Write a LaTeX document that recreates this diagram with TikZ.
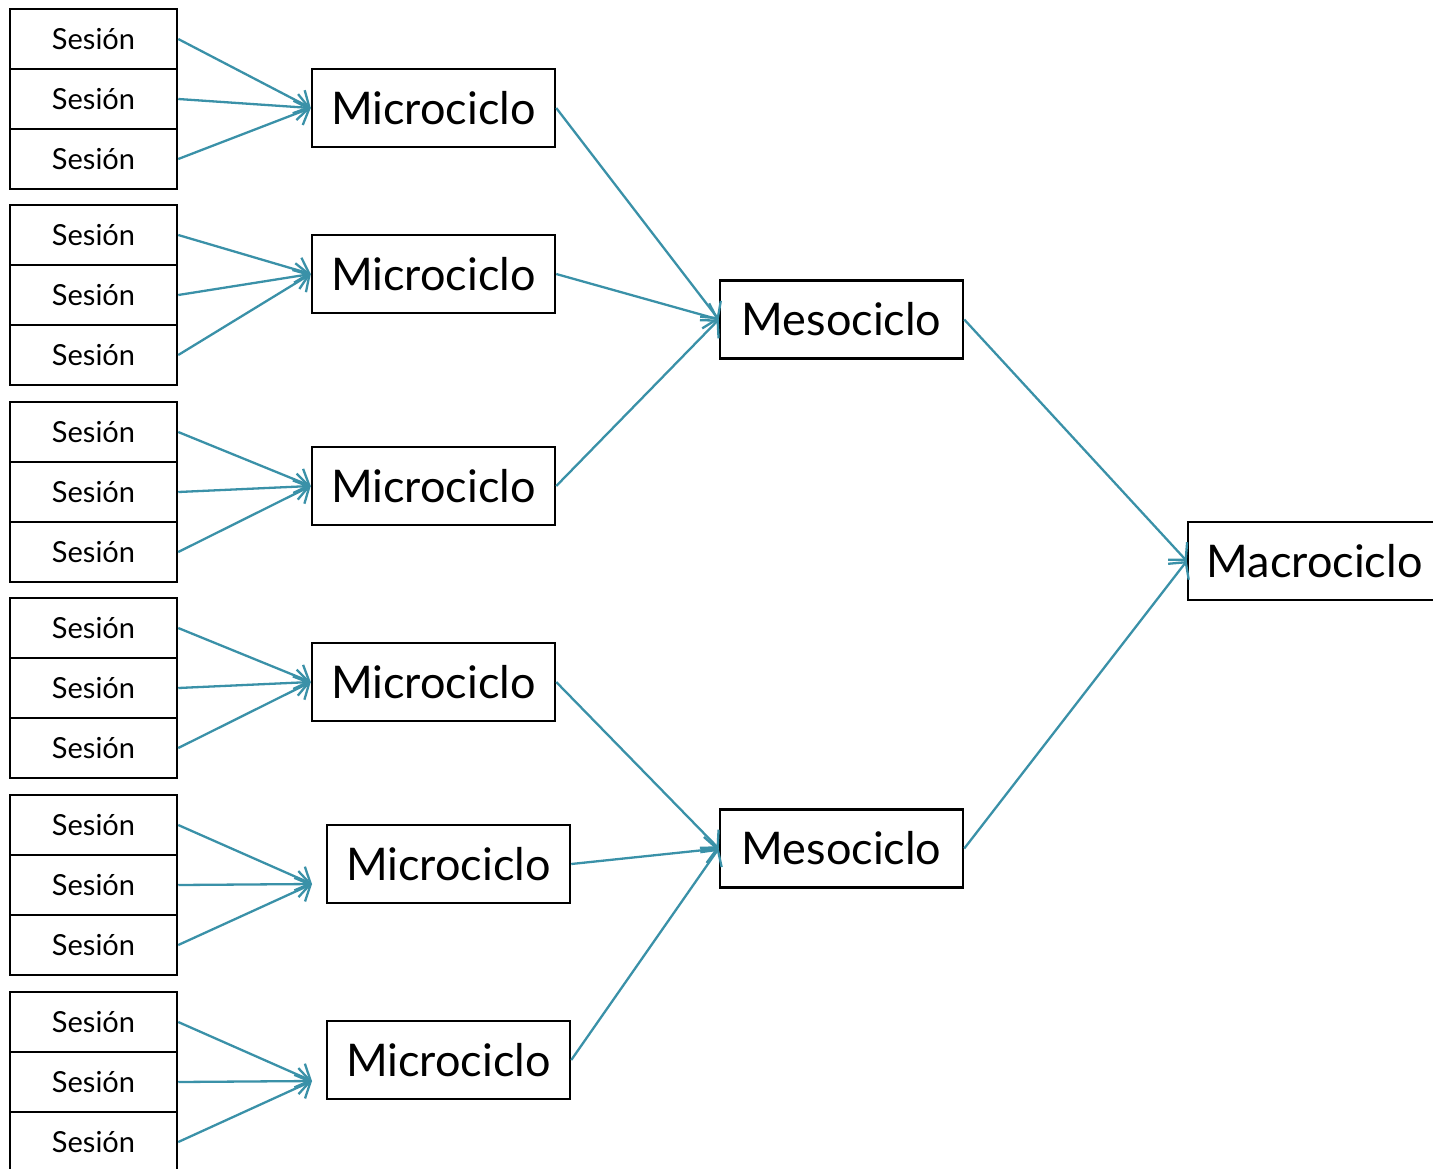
\documentclass[tikz,border=0pt]{standalone}
\usepackage{fontspec}
\setmainfont{Lato}
\usetikzlibrary{arrows.meta,calc}
\definecolor{teal1}{RGB}{58,145,168}
\begin{document}
\begin{tikzpicture}[x=1pt,y=-1pt,
  sbox/.style={draw=black,line width=2.5pt,minimum width=167pt,minimum height=60pt,inner sep=0pt,font=\fontsize{29}{34}\selectfont},
  bigbox/.style={draw=black,line width=2.5pt,minimum width=243pt,minimum height=78pt,inner sep=0pt,font=\fontsize{45}{52}\selectfont},
  conn/.style={draw=teal1,line width=2.3pt,-{Straight Barb[length=12pt,width=26pt,line width=2.3pt]}}]
\useasboundingbox (0,0) rectangle (1433,1168);
% session boxes
\foreach \g/\y in {1/9,2/205,3/402,4/598,5/795,6/992}{
  \node[sbox] (s\g a) at (93.5,\y+30) {Sesión};
  \node[sbox] (s\g b) at (93.5,\y+90) {Sesión};
  \node[sbox] (s\g c) at (93.5,\y+150) {Sesión};
}
% microciclos
\node[bigbox] (m1) at (433.5,108) {Microciclo};
\node[bigbox] (m2) at (433.5,274) {Microciclo};
\node[bigbox] (m3) at (433.5,486) {Microciclo};
\node[bigbox] (m4) at (433.5,682) {Microciclo};
\node[bigbox] (m5) at (448.5,864) {Microciclo};
\node[bigbox] (m6) at (448.5,1060) {Microciclo};
\coordinate (m5in) at (312,884);
\coordinate (m6in) at (312,1081);
% mesociclos
\node[bigbox] (e1) at (841.5,319.5) {Mesociclo};
\node[bigbox] (e2) at (841.5,848.5) {Mesociclo};
% macrociclo
\node[bigbox,minimum width=253pt] (ma) at (1314.5,561) {Macrociclo};
% connectors
\foreach \g/\t in {1/m1.west,2/m2.west,3/m3.west,4/m4.west,5/m5in,6/m6in}{
  \draw[conn] (s\g a.east) -- (\t);
  \draw[conn] (s\g b.east) -- (\t);
  \draw[conn] (s\g c.east) -- (\t);
}
\draw[conn] (m1.east) -- (e1.west);
\draw[conn] (m2.east) -- (e1.west);
\draw[conn] (m3.east) -- (e1.west);
\draw[conn] (m4.east) -- (e2.west);
\draw[conn] (m5.east) -- (e2.west);
\draw[conn] (m6.east) -- (e2.west);
\draw[conn] (e1.east) -- (ma.west);
\draw[conn] (e2.east) -- (ma.west);
\end{tikzpicture}
\end{document}
